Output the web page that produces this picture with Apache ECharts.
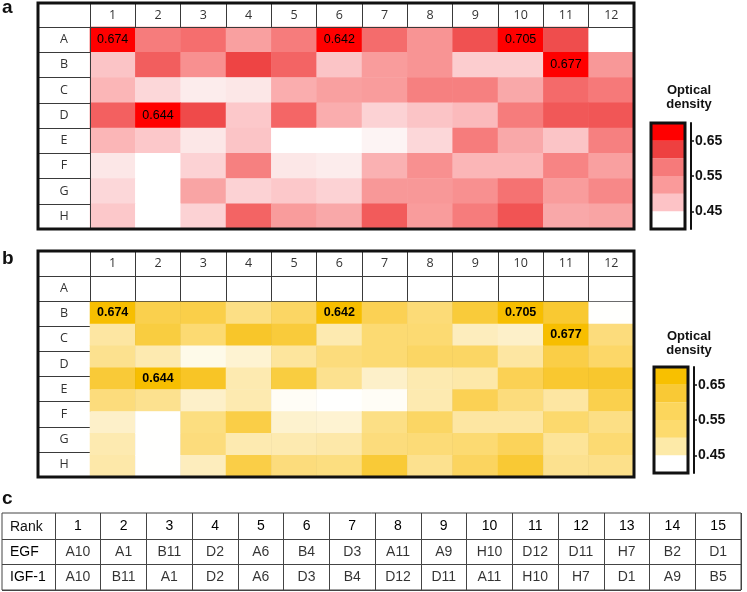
<!DOCTYPE html>
<html><head><meta charset="utf-8">
<script src="https://cdn.jsdelivr.net/npm/echarts@6/dist/echarts.min.js"></script>
<style>html,body{margin:0;padding:0;background:#fff}#c{width:747px;height:592px}</style>
</head><body><div id="c"></div>
<script>
// ---------- data ----------
const plateCols = ['1','2','3','4','5','6','7','8','9','10','11','12'];
const plateRows = ['A','B','C','D','E','F','G','H'];
// panel a (EGF) optical density, rows A..H, columns 1..12
const egfOD = [
  [0.674,0.575,0.588,0.530,0.575,0.642,0.590,0.545,0.618,0.705,0.622,0.420],
  [0.490,0.604,0.550,0.632,0.598,0.490,0.535,0.545,0.480,0.480,0.677,0.540],
  [0.505,0.470,0.450,0.455,0.515,0.530,0.535,0.570,0.570,0.520,0.592,0.578],
  [0.602,0.644,0.625,0.485,0.596,0.515,0.475,0.490,0.500,0.575,0.610,0.612],
  [0.505,0.485,0.455,0.490,0.420,0.420,0.440,0.470,0.575,0.520,0.490,0.570],
  [0.455,0.410,0.475,0.570,0.455,0.450,0.510,0.550,0.505,0.505,0.565,0.530],
  [0.470,0.410,0.525,0.475,0.485,0.475,0.540,0.540,0.550,0.585,0.535,0.560],
  [0.485,0.410,0.475,0.598,0.535,0.520,0.607,0.535,0.575,0.615,0.520,0.525]
];
// panel b (IGF-1) optical density
const igfOD = [
  [0.674,0.585,0.588,0.530,0.565,0.642,0.580,0.545,0.600,0.705,0.610,0.420],
  [0.500,0.595,0.550,0.620,0.599,0.490,0.550,0.550,0.480,0.470,0.677,0.540],
  [0.520,0.490,0.440,0.460,0.505,0.540,0.550,0.565,0.565,0.500,0.590,0.560],
  [0.602,0.644,0.625,0.490,0.595,0.520,0.470,0.490,0.495,0.580,0.612,0.615],
  [0.540,0.520,0.470,0.490,0.430,0.410,0.430,0.490,0.580,0.540,0.500,0.585],
  [0.470,0.410,0.535,0.590,0.465,0.460,0.530,0.565,0.500,0.500,0.555,0.530],
  [0.490,0.410,0.540,0.490,0.490,0.495,0.540,0.545,0.550,0.575,0.510,0.550],
  [0.495,0.410,0.480,0.590,0.540,0.535,0.604,0.520,0.570,0.608,0.520,0.525]
];
const legendTicks = [0.45,0.55,0.65];
const legendBandStarts = [0.40,0.45,0.50,0.55,0.60,0.65];
const legendBandSize = 0.05;
const rankNums = ['1','2','3','4','5','6','7','8','9','10','11','12','13','14','15'];
const rankRows = ['EGF','IGF-1'];
const rankEGF = ['A10','A1','B11','D2','A6','B4','D3','A11','A9','H10','D12','D11','H7','B2','D1'];
const rankIGF = ['A10','B11','A1','D2','A6','D3','B4','D12','D11','A11','H10','H7','D1','A9','B5'];

// ---------- styles ----------
const redStops = [[0.40,'#ffffff'],[0.425,'#ffffff'],[0.45,'#fcecec'],[0.475,'#fcd2d4'],[0.50,'#fbbabc'],[0.525,'#f9a4a4'],[0.55,'#f89090'],[0.575,'#f67c7c'],[0.60,'#f36262'],[0.625,'#ef4a4a'],[0.635,'#ee4242'],[0.64,'#ff0000'],[0.70,'#ff0000']];
const yelStops = [[0.40,'#ffffff'],[0.425,'#fffffc'],[0.45,'#fef6dc'],[0.475,'#fdefc4'],[0.50,'#fde6a2'],[0.525,'#fce08a'],[0.55,'#fcda72'],[0.575,'#fbd35a'],[0.60,'#f9cb3a'],[0.625,'#f8c526'],[0.635,'#f8c220'],[0.64,'#f7be00'],[0.70,'#f7be00']];
const legendColorsA = ['#ffffff','#fdc3c6','#fa9a9a','#f67a7a','#ee4040','#ff0000'];
const legendColorsB = ['#ffffff','#fdeaa8','#fddb6e','#fcd65c','#f9c935','#f8c000'];
const VMIN = 0.40, VMAX = 0.70;
function hex2rgb(h){return [parseInt(h.slice(1,3),16),parseInt(h.slice(3,5),16),parseInt(h.slice(5,7),16)];}
function ramp(stops, n){
  const out=[];
  for(let i=0;i<n;i++){
    const v=VMIN+(VMAX-VMIN)*i/(n-1);
    let k=0; while(k<stops.length-2 && v>stops[k+1][0]) k++;
    const [v0,c0]=stops[k],[v1,c1]=stops[k+1];
    const t=Math.max(0,Math.min(1,(v-v0)/(v1-v0)));
    const a=hex2rgb(c0),b=hex2rgb(c1);
    out.push('rgb('+a.map((x,j)=>Math.round(x+(b[j]-x)*t)).join(',')+')');
  }
  return out;
}
const LINE='#3a3a3a';
const HDR_FONT={color:'#333',fontSize:12.5,fontFamily:'Open Sans'};

function frameGridAxes(i){
  return {x:{gridIndex:i,type:'value',show:false,splitLine:{show:false}},
          y:{gridIndex:i,type:'value',show:false,splitLine:{show:false}}};
}
const grids=[], xAxes=[], yAxes=[], series=[];
function addGrid(g){grids.push(g);return grids.length-1;}

function plateHeader(gi, tickUp, withSplit, zAxis){
  xAxes.push({gridIndex:gi,type:'category',data:plateCols,position:'top',z:zAxis,
    axisLine:{show:true,lineStyle:{color:LINE,width:1}},
    axisTick:{show:true,interval:0,length:tickUp,lineStyle:{color:LINE,width:1}},
    axisLabel:Object.assign({interval:0,margin:tickUp/2,verticalAlign:'middle'},HDR_FONT),
    splitLine:{show:withSplit,interval:0,lineStyle:{color:LINE,width:1}}});
  yAxes.push({gridIndex:gi,type:'category',data:plateRows,inverse:true,z:zAxis,
    axisLine:{show:true,lineStyle:{color:LINE,width:1}},
    axisTick:{show:true,interval:0,length:52,lineStyle:{color:LINE,width:1}},
    axisLabel:Object.assign({interval:0,margin:26,align:'center'},HDR_FONT),
    splitLine:{show:withSplit,interval:0,lineStyle:{color:LINE,width:1}}});
}
function heatSeries(gi, data, bold){
  series.push({type:'heatmap',xAxisIndex:gi,yAxisIndex:gi,z:3,
    data:data.flatMap((row,r)=>row.map((v,c)=>[c,r,v])),
    label:{show:true,color:'#000',fontSize:12.5,fontWeight:bold?'bold':'normal',
      fontFamily:'Liberation Sans',
      formatter:p=>p.value[2]>=0.64?p.value[2].toFixed(3):''},
    emphasis:{disabled:true},silent:true});
  return series.length-1;
}
function colorbar(gi, colors, stackName){
  xAxes.push({gridIndex:gi,type:'category',data:[''],show:false});
  yAxes.push({gridIndex:gi,type:'value',min:VMIN,max:VMAX,position:'right',offset:6,
    axisLine:{show:true,lineStyle:{color:'#111',width:2}},
    axisTick:{show:true,customValues:legendTicks,length:3,lineStyle:{color:'#111',width:1.5}},
    axisLabel:{customValues:legendTicks,formatter:v=>v.toFixed(2),margin:4,fontSize:14,fontWeight:'bold',color:'#111',fontFamily:'Liberation Sans'},
    splitLine:{show:false}});
  series.push({type:'bar',xAxisIndex:gi,yAxisIndex:gi,stack:stackName,data:[legendBandStarts[0]],
    barWidth:'100%',itemStyle:{color:'rgba(0,0,0,0)'},silent:true});
  legendBandStarts.forEach((s,i)=>{
    series.push({type:'bar',xAxisIndex:gi,yAxisIndex:gi,stack:stackName,data:[legendBandSize],
      barWidth:'100%',itemStyle:{color:colors[i]},silent:true});
  });
}

// ---- panel a ----
let g=addGrid({left:38,top:3,width:596,height:226,show:true,borderColor:'#111',borderWidth:3,backgroundColor:'rgba(0,0,0,0)',z:10});
let fa=frameGridAxes(g); xAxes.push(fa.x); yAxes.push(fa.y);
g=addGrid({left:90,top:27,width:544,height:202});
plateHeader(g,24,false,5);
const sA=heatSeries(g,egfOD,false);
g=addGrid({left:651,top:123,width:34,height:106,show:true,borderColor:'#111',borderWidth:3,backgroundColor:'rgba(0,0,0,0)',z:10});
colorbar(g,legendColorsA,'cbA');

// ---- panel b ----
g=addGrid({left:38,top:251,width:596,height:226,show:true,borderColor:'#111',borderWidth:3,backgroundColor:'rgba(0,0,0,0)',z:10});
fa=frameGridAxes(g); xAxes.push(fa.x); yAxes.push(fa.y);
g=addGrid({left:90,top:276,width:544,height:201});
plateHeader(g,25,true,0);
g=addGrid({left:90,top:302,width:544,height:175});
xAxes.push({gridIndex:g,type:'category',data:plateCols,show:false});
yAxes.push({gridIndex:g,type:'category',data:plateRows,inverse:true,show:false});
const sB=heatSeries(g,igfOD,true);
g=addGrid({left:654,top:367,width:34,height:106,show:true,borderColor:'#111',borderWidth:3,backgroundColor:'rgba(0,0,0,0)',z:10});
colorbar(g,legendColorsB,'cbB');

// ---- panel c ----
g=addGrid({left:2,top:513,width:739,height:77,show:true,borderColor:'#444',borderWidth:1,backgroundColor:'rgba(0,0,0,0)',z:10});
fa=frameGridAxes(g); xAxes.push(fa.x); yAxes.push(fa.y);
g=addGrid({left:55,top:539,width:686,height:51});
const TFONT={color:'#000',fontSize:14,fontFamily:'Liberation Sans'};
xAxes.push({gridIndex:g,type:'category',data:rankNums,position:'top',
  axisLine:{show:true,lineStyle:{color:'#444',width:1}},
  axisTick:{show:true,interval:0,length:26,lineStyle:{color:'#444',width:1}},
  axisLabel:Object.assign({interval:0,margin:13,verticalAlign:'middle'},TFONT),
  splitLine:{show:true,interval:0,lineStyle:{color:'#444',width:1}}});
yAxes.push({gridIndex:g,type:'category',data:rankRows,inverse:true,
  axisLine:{show:true,lineStyle:{color:'#444',width:1}},
  axisTick:{show:true,interval:0,length:53,lineStyle:{color:'#444',width:1}},
  axisLabel:Object.assign({interval:0,margin:45,align:'left'},TFONT),
  splitLine:{show:true,interval:0,lineStyle:{color:'#444',width:1}}});
series.push({type:'scatter',xAxisIndex:g,yAxisIndex:g,symbolSize:1,silent:true,
  itemStyle:{color:'rgba(0,0,0,0)'},
  label:Object.assign({show:true,position:'inside',formatter:'{b}'},TFONT),
  data:rankEGF.map((t,i)=>({name:t,value:[i,0]})).concat(rankIGF.map((t,i)=>({name:t,value:[i,1]})))});

function txt(text,x,y,font,align){
  return {type:'text',x:x,y:y,z:100,style:{text:text,font:font,fill:'#111',
    textAlign:align||'left',align:align||'left',textVerticalAlign:'middle',verticalAlign:'middle',lineHeight:14}};
}
const option={
  animation:false,
  grid:grids, xAxis:xAxes, yAxis:yAxes, series:series,
  visualMap:[
    {type:'continuous',show:false,min:VMIN,max:VMAX,seriesIndex:sA,inRange:{color:ramp(redStops,121)}},
    {type:'continuous',show:false,min:VMIN,max:VMAX,seriesIndex:sB,inRange:{color:ramp(yelStops,121)}}
  ],
  graphic:[
    txt('a',2,8,'bold 19px Liberation Sans'),
    txt('b',2,259,'bold 19px Liberation Sans'),
    txt('c',2,499,'bold 19px Liberation Sans'),
    txt('Optical\ndensity',689,97,'bold 13px Liberation Sans','center'),
    txt('Optical\ndensity',689,343,'bold 13px Liberation Sans','center'),
    txt('Rank',10,527,'14px Liberation Sans')
  ]
};
const chart=echarts.init(document.getElementById('c'),null,{renderer:'canvas'});
chart.setOption(option);
</script></body></html>
